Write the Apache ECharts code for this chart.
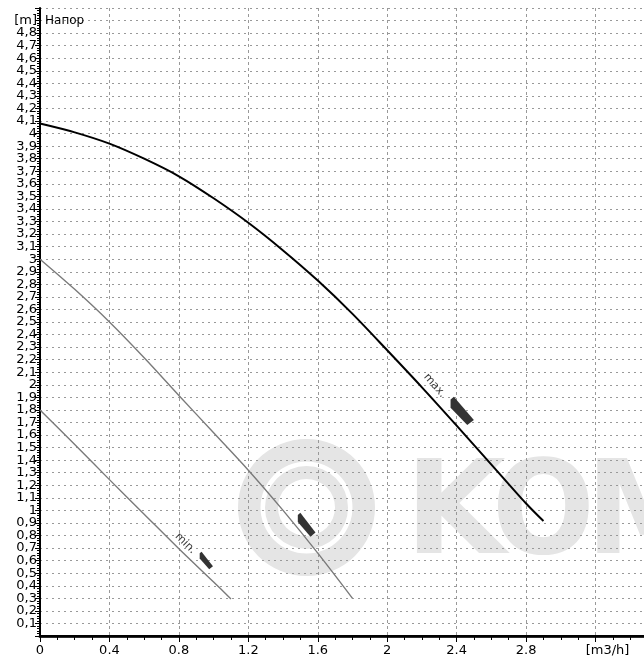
<!DOCTYPE html>
<html><head><meta charset="utf-8">
<script src="https://cdn.jsdelivr.net/npm/echarts@6/dist/echarts.min.js"></script>
<style>html,body{margin:0;padding:0;background:#fff}#c{width:644px;height:658px}</style>
</head><body><div id="c"></div>
<script>
// ---- data ----
const flowMax = [0, 0.2, 0.4, 0.6, 0.8, 1.0, 1.2, 1.4, 1.6, 1.8, 2.0, 2.2, 2.4, 2.6, 2.8, 2.9];
const headMax = [4.08, 4.01, 3.92, 3.80, 3.66, 3.485, 3.29, 3.07, 2.83, 2.565, 2.275, 1.98, 1.675, 1.365, 1.055, 0.915];
const flowMid = [0, 0.2, 0.4, 0.6, 0.8, 1.0, 1.2, 1.4, 1.6, 1.8];
const headMid = [3.0, 2.76, 2.50, 2.215, 1.915, 1.618, 1.32, 1.0, 0.66, 0.30];
const flowMin = [0, 0.2, 0.4, 0.6, 0.8, 1.0, 1.1];
const headMin = [1.80, 1.525, 1.245, 0.97, 0.695, 0.43, 0.295];
const curveLabels = ['max.', 'min.'];
const curveLabelPos = [[2.273, 1.994], [0.837, 0.738]];
const markerPos = [[2.432, 1.792], [1.536, 0.886], [0.958, 0.601]];
const xUnit = '[m3/h]';
const yUnit = '[m]';
const yTitle = 'Напор';
const watermarkLetters = ['K', 'O', 'M'];
const xTickStep = 0.4;
const yTickStep = 0.1;

const zip = (a, b) => a.map((v, i) => [v, b[i]]);
const markerPath = 'path://M0,2.7 L3.3,0 L23.3,23.3 L16.7,28.3 L0,11 Z';
const markerSizes = [[23.3, 28.3], [17.7, 24], [13.3, 17.7]];
const labelRot = [-49, -45];
const font = 'DejaVu Sans';
const wmColor = '#e5e5e5';
const wmX = [405, 492, 586];
const wmScale = [1.0, 0.93, 0.95];

const chart = echarts.init(document.getElementById('c'), null, {renderer: 'canvas'});
chart.setOption({
  backgroundColor: '#fff',
  animation: false,
  grid: {left: 40, top: 8, right: -21, bottom: 22, outerBoundsMode: 'none', containLabel: false},
  xAxis: [{
    type: 'value', min: 0, max: 3.6, interval: xTickStep,
    axisLine: {show: true, onZero: false, lineStyle: {color: '#2a2a2a', width: 3}},
    axisTick: {show: true, length: 6, lineStyle: {color: '#000', width: 1}},
    minorTick: {show: true, splitNumber: 4, length: 4, lineStyle: {color: '#000', width: 1}},
    splitLine: {show: true, lineStyle: {color: '#999', width: 1, type: [3, 3]}},
    axisLabel: {
      margin: 8, fontFamily: font, fontSize: 13, color: '#000',
      formatter: v => {
        const r = Math.round(v * 10) / 10;
        if (Math.abs(r - 3.2) < 1e-6) return '{u|' + xUnit + '}';
        return String(r);
      },
      rich: {u: {fontFamily: font, fontSize: 13, color: '#000', padding: [0, 0, 0, 24]}}
    }
  }, {
    type: 'value', position: 'top', min: 0, max: 3.6,
    axisLine: {show: true, lineStyle: {color: '#000', width: 2}},
    axisTick: {show: false}, axisLabel: {show: false}, splitLine: {show: false}
  }],
  yAxis: {
    type: 'value', min: 0, max: 5, interval: yTickStep,
    axisLine: {show: true, onZero: false, lineStyle: {color: '#000', width: 2}},
    axisTick: {show: true, length: 5, lineStyle: {color: '#000', width: 1}},
    minorTick: {show: true, splitNumber: 5, length: 3, lineStyle: {color: '#000', width: 1}},
    splitLine: {show: true, lineStyle: {color: '#999', width: 1, type: [2, 4]}},
    axisLabel: {
      margin: 3, fontFamily: font, fontSize: 13, color: '#000',
      formatter: v => {
        const r = Math.round(v * 10) / 10;
        if (r === 0 || r === 5) return '';
        if (Math.abs(r - 4.9) < 1e-6) return yUnit;
        return String(r).replace('.', ',');
      }
    }
  },
  graphic: [
    {type: 'ring', z: -10, shape: {cx: 306.5, cy: 507.5, r: 68.5, r0: 46}, style: {fill: wmColor}, silent: true},
    {type: 'ring', z: -10, shape: {cx: 306.5, cy: 507.5, r: 41.5, r0: 28.5}, style: {fill: wmColor}, silent: true}
  ].concat(watermarkLetters.map((t, i) => ({
    type: 'text', z: -10, x: wmX[i], y: 519, scaleX: wmScale[i], silent: true,
    style: {text: t, font: 'bold 130px "DejaVu Sans"', fill: wmColor, align: 'left', verticalAlign: 'middle'}
  }))).concat([
    {type: 'text', z: 10, x: 45, y: 21, style: {text: yTitle, font: '12px "DejaVu Sans"', fill: '#000', align: 'left', verticalAlign: 'middle'}}
  ]),
  series: [
    {type: 'line', data: zip(flowMax, headMax), smooth: 0.3, symbol: 'none', z: 3,
     lineStyle: {color: '#000', width: 2}},
    {type: 'line', data: zip(flowMid, headMid), smooth: 0.3, symbol: 'none', z: 3,
     lineStyle: {color: '#7a7a7a', width: 1.4}},
    {type: 'line', data: zip(flowMin, headMin), smooth: 0.3, symbol: 'none', z: 3,
     lineStyle: {color: '#7a7a7a', width: 1.4}},
    {type: 'scatter', z: 4, silent: true,
     data: markerPos.map((p, i) => ({value: p, symbol: markerPath, symbolSize: markerSizes[i], symbolKeepAspect: false})),
     itemStyle: {color: '#333', opacity: 1}},
    {type: 'scatter', z: 5, silent: true, symbolSize: 0,
     data: curveLabelPos.map((p, i) => ({value: p, name: curveLabels[i],
       label: {show: true, position: 'inside', formatter: curveLabels[i], rotate: labelRot[i],
               fontFamily: font, fontSize: 11, color: '#000'}}))}
  ]
});
</script></body></html>
